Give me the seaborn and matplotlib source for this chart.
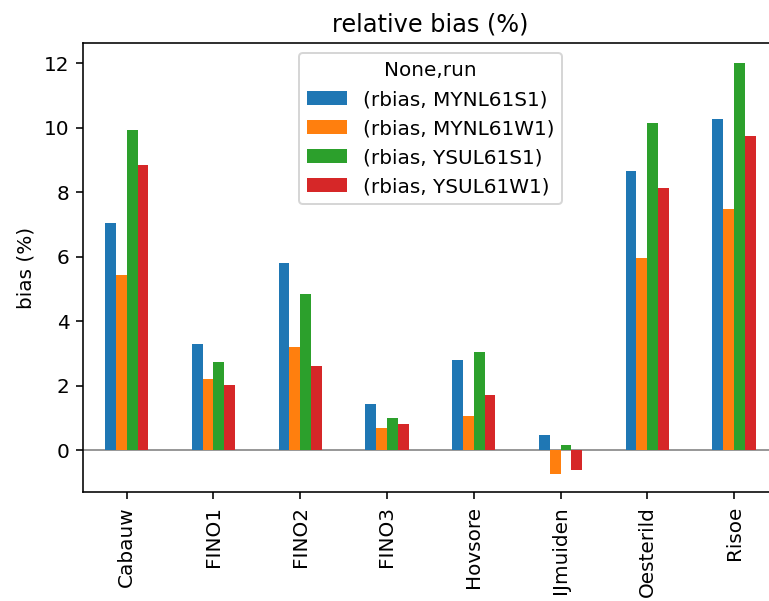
import matplotlib
matplotlib.use("Agg")
import matplotlib.pyplot as plt
import pandas as pd
import seaborn as sns

stations = ["Cabauw", "FINO1", "FINO2", "FINO3", "Hovsore", "IJmuiden", "Oesterild", "Risoe"]
runs = ["(rbias, MYNL61S1)", "(rbias, MYNL61W1)", "(rbias, YSUL61S1)", "(rbias, YSUL61W1)"]

mynl61s1 = [7.05, 3.31, 5.82, 1.45, 2.80, 0.49, 8.65, 10.26]
mynl61w1 = [5.44, 2.22, 3.19, 0.68, 1.06, -0.72, 5.95, 7.49]
ysul61s1 = [9.94, 2.74, 4.86, 1.00, 3.05, 0.16, 10.14, 12.00]
ysul61w1 = [8.85, 2.04, 2.61, 0.81, 1.71, -0.60, 8.14, 9.75]

series = [mynl61s1, mynl61w1, ysul61s1, ysul61w1]
df = pd.DataFrame(
    [(st, run, v) for run, vals in zip(runs, series) for st, v in zip(stations, vals)],
    columns=["station", "run", "rbias"],
)

dpi = 144
fig = plt.figure(figsize=(769 / dpi, 601 / dpi), dpi=dpi)
ax = fig.add_axes([0.1083, 0.1814, 0.9027, 0.7466])

palette = ["#1f77b4", "#ff7f0e", "#2ca02c", "#d62728"]
sns.barplot(
    data=df, x="station", y="rbias", hue="run",
    order=stations, hue_order=runs, palette=palette,
    width=0.5, saturation=1, ax=ax, errorbar=None,
)

ax.axhline(0, color="grey", lw=0.8, zorder=0.5)
ax.set_xlim(-0.5, len(stations) - 0.5)
ax.set_ylim(-1.29, 12.62)
ax.set_yticks([0, 2, 4, 6, 8, 10, 12])
ax.set_xlabel("")
ax.set_ylabel("bias (%)")
ax.set_title("relative bias (%)")
ax.tick_params(axis="x", labelrotation=90)
ax.legend(title="None,run", loc="upper center")

fig.savefig("out.png", dpi=dpi)
